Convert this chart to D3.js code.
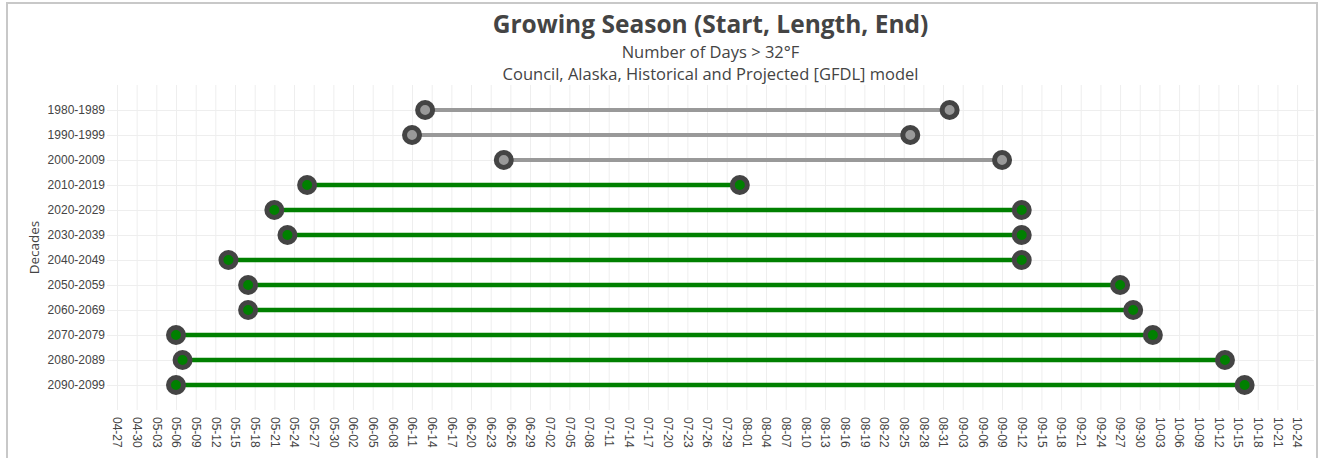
<!DOCTYPE html>
<html>
<head>
<meta charset="utf-8">
<script src="https://cdn.jsdelivr.net/npm/d3@7"></script>
<style>
  html, body { margin: 0; padding: 0; background: #fff; }
  svg { display: block; font-family: "Open Sans", "Noto Sans", sans-serif; }
</style>
</head>
<body>
<svg id="chart" width="1321" height="458"></svg>
<script>
// Decades shown on the vertical axis, top to bottom
const decades = ["1980-1989", "1990-1999", "2000-2009", "2010-2019", "2020-2029", "2030-2039",
                 "2040-2049", "2050-2059", "2060-2069", "2070-2079", "2080-2089", "2090-2099"];
// Historical decades are drawn in grey, projections in green
const kinds = ["historical", "historical", "historical", "projected", "projected", "projected",
               "projected", "projected", "projected", "projected", "projected", "projected"];
// First and last day above freezing (month-day)
const seasonStart = ["06-13", "06-11", "06-25", "05-26", "05-21", "05-23",
                     "05-14", "05-17", "05-17", "05-06", "05-07", "05-06"];
const seasonEnd   = ["09-01", "08-26", "09-09", "07-31", "09-12", "09-12",
                     "09-12", "09-27", "09-29", "10-02", "10-13", "10-16"];
// Date labels along the horizontal axis, every third day
const tickLabels = ["04-27","04-30","05-03","05-06","05-09","05-12","05-15","05-18","05-21","05-24",
  "05-27","05-30","06-02","06-05","06-08","06-11","06-14","06-17","06-20","06-23","06-26","06-29",
  "07-02","07-05","07-08","07-11","07-14","07-17","07-20","07-23","07-26","07-29","08-01","08-04",
  "08-07","08-10","08-13","08-16","08-19","08-22","08-25","08-28","08-31","09-03","09-06","09-09",
  "09-12","09-15","09-18","09-21","09-24","09-27","09-30","10-03","10-06","10-09","10-12","10-15",
  "10-18","10-21","10-24"];

// Month-day strings -> day of year (non-leap year)
const parseMD = d3.timeParse("%Y-%m-%d");
const dayOfYear = md => {
  const dt = parseMD("2021-" + md);
  return d3.timeDay.count(d3.timeYear(dt), dt) + 1;
};

const rows = decades.map((dec, i) => ({
  decade: dec,
  kind: kinds[i],
  start: dayOfYear(seasonStart[i]),
  end: dayOfYear(seasonEnd[i])
}));
const tickDays = tickLabels.map(dayOfYear);

const plot = { left: 107, top: 85, right: 1314, bottom: 410 };
const svg = d3.select("#chart");

// Outer frame
svg.append("rect")
  .attr("x", 7).attr("y", 3).attr("width", 1310).attr("height", 470)
  .attr("fill", "none").attr("stroke", "#c8c8c8").attr("stroke-width", 2);

const firstTick = tickDays[0];
const x = d3.scaleLinear()
  .domain([firstTick - 10 / 6.556, firstTick + (plot.right - 117) / 6.556])
  .range([plot.left, plot.right]);

const y = d3.scalePoint()
  .domain(decades)
  .range([plot.top, plot.bottom])
  .padding(1);

// Vertical grid + rotated date labels
const xAxis = svg.append("g")
  .attr("transform", `translate(0,${plot.bottom})`)
  .call(d3.axisBottom(x)
    .tickValues(tickDays)
    .tickFormat((d, i) => tickLabels[i])
    .tickSize(-(plot.bottom - plot.top))
    .tickPadding(0));
xAxis.select(".domain").remove();
xAxis.selectAll(".tick line").attr("stroke", "#eeeeee").attr("stroke-width", 1);
xAxis.selectAll(".tick text")
  .attr("fill", "#444")
  .attr("font-size", 12)
  .attr("text-anchor", "start")
  .attr("transform", "translate(0,7) rotate(90)")
  .attr("x", 0).attr("y", 0)
  .attr("dy", "0.35em");

// Horizontal grid + decade labels
const yAxis = svg.append("g")
  .attr("transform", `translate(${plot.left},0)`)
  .call(d3.axisLeft(y)
    .tickSize(-(plot.right - plot.left))
    .tickPadding(2));
yAxis.select(".domain").remove();
yAxis.selectAll(".tick line").attr("stroke", "#eeeeee").attr("stroke-width", 1);
yAxis.selectAll(".tick text").attr("fill", "#444").attr("font-size", 12);

// Axis title
svg.append("text")
  .attr("transform", `translate(39,${(plot.top + plot.bottom) / 2}) rotate(-90)`)
  .attr("text-anchor", "middle")
  .attr("fill", "#444")
  .attr("font-size", 13.5)
  .text("Decades");

// Titles
const cx = (plot.left + plot.right) / 2;
svg.append("text")
  .attr("x", cx).attr("y", 33)
  .attr("text-anchor", "middle")
  .attr("fill", "#444")
  .attr("font-size", 24.5)
  .attr("font-weight", "bold")
  .text("Growing Season (Start, Length, End)");
svg.append("text")
  .attr("x", cx).attr("y", 57.5)
  .attr("text-anchor", "middle")
  .attr("fill", "#444")
  .attr("font-size", 16.5)
  .text("Number of Days > 32°F");
svg.append("text")
  .attr("x", cx).attr("y", 80)
  .attr("text-anchor", "middle")
  .attr("fill", "#444")
  .attr("font-size", 16.5)
  .text("Council, Alaska, Historical and Projected [GFDL] model");

const colors = { historical: "#999999", projected: "#008000" };

// Season span lines
svg.append("g").selectAll("line")
  .data(rows)
  .join("line")
  .attr("x1", d => x(d.start))
  .attr("x2", d => x(d.end))
  .attr("y1", d => y(d.decade))
  .attr("y2", d => y(d.decade))
  .attr("stroke", d => colors[d.kind])
  .attr("stroke-width", d => d.kind === "historical" ? 4 : 4.5);

// Start and end markers
const pts = rows.flatMap(d => [
  { decade: d.decade, kind: d.kind, day: d.start },
  { decade: d.decade, kind: d.kind, day: d.end }
]);
svg.append("g").selectAll("circle")
  .data(pts)
  .join("circle")
  .attr("cx", d => x(d.day))
  .attr("cy", d => y(d.decade))
  .attr("r", 7.5)
  .attr("fill", d => colors[d.kind])
  .attr("stroke", "#444444")
  .attr("stroke-width", 5);
</script>
</body>
</html>
